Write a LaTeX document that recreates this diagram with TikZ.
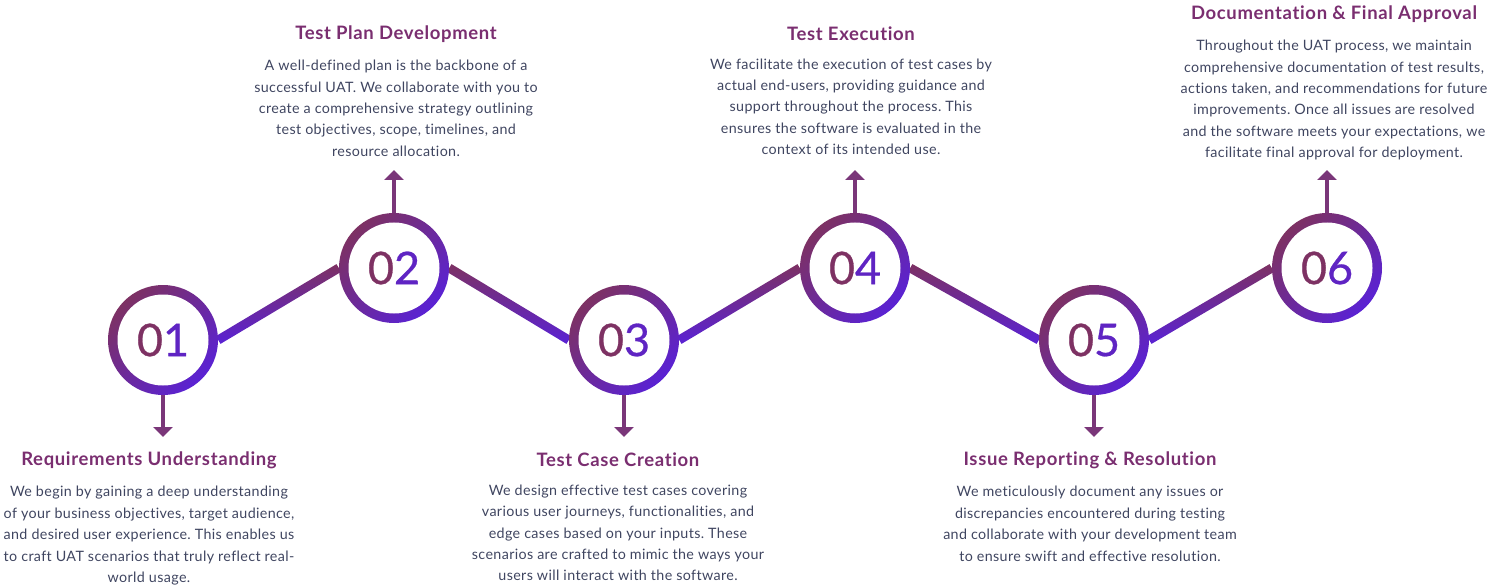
\documentclass[tikz,border=0pt]{standalone}
\usepackage{fontspec}
\setmainfont{Lato}[Ligatures = NoCommon]
\newfontfamily\digitfont[FakeBold=0.6]{Lato}
\newfontfamily\headfont[LetterSpace=3.5, Ligatures = NoCommon]{Lato}
\newfontfamily\bodyfont[LetterSpace=2.5, Ligatures = NoCommon]{Lato}
\usepackage{tikz}
\usetikzlibrary{arrows.meta}
\usetikzlibrary{positioning}
\usetikzlibrary{calc}
\usetikzlibrary{backgrounds}
\frenchspacing
\definecolor{plum}{HTML}{7D3163}
\definecolor{violet}{HTML}{5A22D4}
\definecolor{stemc}{HTML}{7A3679}
\definecolor{headc}{HTML}{7A2E70}
\definecolor{bodyc}{HTML}{3F4560}
\tikzset{ring/.style = {circle, inner sep = 0, minimum size = 110,
                        top color = plum, bottom color = violet, shading angle = 45}}
\tikzset{hole/.style = {circle, fill = white, inner sep = 0, minimum size = 91,
                        font = \digitfont\fontsize{45}{45}\selectfont}}
\tikzset{stem/.style = {draw = stemc, line width = 4,
                        -{Triangle[width = 19pt, length = 10pt]}}}
\tikzset{head/.style = {headc, font = \headfont\fontsize{18.5}{20}\bfseries}}
\tikzset{body/.style = {bodyc, align = center, inner sep = 0,
                        font = \bodyfont\fontsize{14.3}{21.4}\selectfont}}
\newcommand{\twodig}[2]{\textcolor{plum}{#1}\textcolor{violet!85!plum}{#2}}
\newcommand{\link}[2]{%
  \shade [top color = plum, bottom color = violet]
    ($(#1)!4.5pt!90:(#2)$) -- ($(#2)!4.5pt!-90:(#1)$) --
    ($(#2)!4.5pt!90:(#1)$) -- ($(#1)!4.5pt!-90:(#2)$) -- cycle;}

\begin{document}
\begin{tikzpicture}[x = 1pt, y = -1pt]
      \useasboundingbox (0, 0) rectangle (1489, 588);
      % rings
      \foreach \i/\x/\y in {1/163/340, 2/394/268, 3/624/340,
                            4/855/268, 5/1094/340, 6/1327/268} {
        \node [ring] (s\i) at (\x, \y) {};
        \node [hole] (n\i) at (\x, \y) {\twodig{0}{\i}};
      }
      % connectors, behind the rings
      \begin{scope}[on background layer]
        \link{s1.east}{s2.west} \link{s2.east}{s3.west} \link{s3.east}{s4.west}
        \link{s4.east}{s5.west} \link{s5.east}{s6.west}
      \end{scope}
      % arrow ends
      \coordinate (a1) at (163, 437);
      \coordinate (a2) at (394, 170);
      \coordinate (a3) at (624, 437);
      \coordinate (a4) at (855, 170);
      \coordinate (a5) at (1094, 437);
      \coordinate (a6) at (1327, 170);
      \foreach \i in {1, ..., 6}
        \draw [stem] (s\i) -- (a\i);
      % texts
      \node [head] (t1) at (149, 460) {Requirements Understanding};
      \node [body, below = 14pt of t1] (b1) {We begin by gaining a deep understanding\\
        of your business objectives, target audience,\\
        and desired user experience. This enables us\\
        to craft UAT scenarios that truly reflect real-\\
        world usage.};
      \node [head] (t2) at (396, 34) {Test Plan Development};
      \node [body, below = 14pt of t2] (b2) {A well-defined plan is the backbone of a\\
        successful UAT. We collaborate with you to\\
        create a comprehensive strategy outlining\\
        test objectives, scope, timelines, and\\
        resource allocation.};
      \node [head] (t3) at (618, 460) {Test Case Creation};
      \node [body, below = 14pt of t3] (b3) {We design effective test cases covering\\
        various user journeys, functionalities, and\\
        edge cases based on your inputs. These\\
        scenarios are crafted to mimic the ways your\\
        users will interact with the software.};
      \node [head] (t4) at (851, 34) {Test Execution};
      \node [body, below = 14pt of t4] (b4) {We facilitate the execution of test cases by\\
        actual end-users, providing guidance and\\
        support throughout the process. This\\
        ensures the software is evaluated in the\\
        context of its intended use.};
      \node [head] (t5) at (1090, 460) {Issue Reporting \& Resolution};
      \node [body, below = 14pt of t5] (b5) {We meticulously document any issues or\\
        discrepancies encountered during testing\\
        and collaborate with your development team\\
        to ensure swift and effective resolution.};
      \node [head] (t6) at (1334, 14) {Documentation \& Final Approval};
      \node [body, below = 14pt of t6] (b6) {Throughout the UAT process, we maintain\\
        comprehensive documentation of test results,\\
        actions taken, and recommendations for future\\
        improvements. Once all issues are resolved\\
        and the software meets your expectations, we\\
        facilitate final approval for deployment.};
    \end{tikzpicture}
\end{document}
